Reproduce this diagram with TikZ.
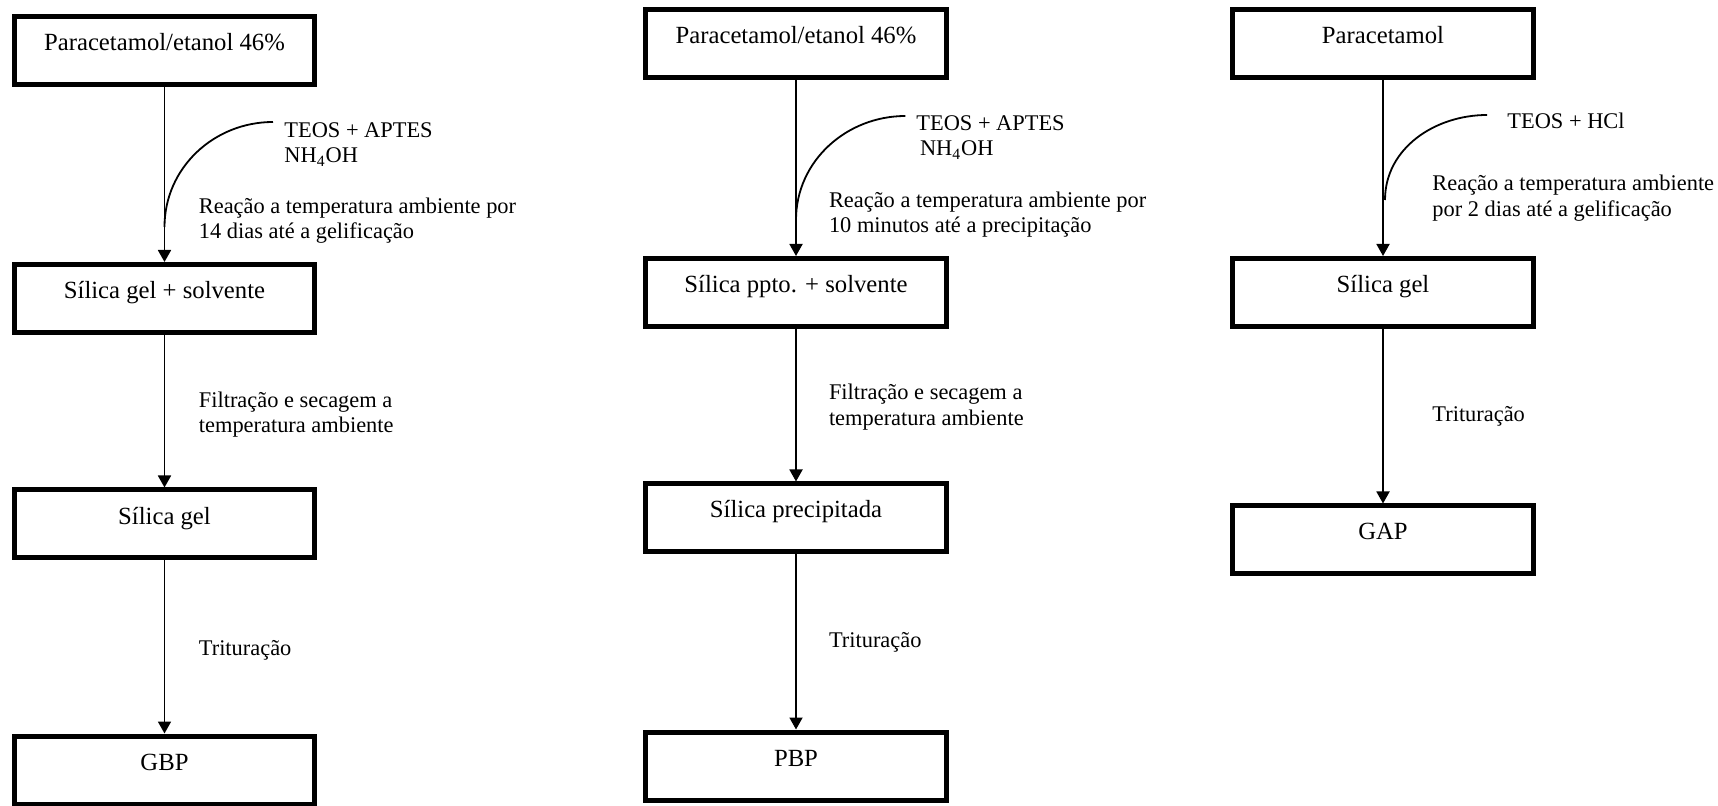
\documentclass[tikz,border=0pt]{standalone}
\usepackage{fontspec}
\setmainfont{Liberation Serif}
\usetikzlibrary{arrows.meta, positioning}

\begin{document}
\begin{tikzpicture}[x=0.5pt, y=-0.5pt,
    >={Triangle[length=6pt, width=6.5pt]},
    stage/.style={draw, line width=2.5pt, minimum width=#1,
      text height=17pt, text depth=17pt, inner ysep=0pt,
      font=\fontsize{12.35}{14}\selectfont},
    note/.style={anchor=base west, align=left, inner sep=0pt,
      font=\fontsize{11.2}{12.9}\selectfont},
    flow/.style={->, line width=0.9pt},
    feed/.style={line width=0.9pt}]
  \useasboundingbox (0,0) rectangle (1718,806);
  % ── Route 1: gel, base ──
  \begin{scope}[shift={(164.5,0)}]
    \node[stage=149.75pt] (g1) at (0,50.5) {Paracetamol/etanol 46\%};
    \node[stage=149.75pt] (g2) at (0,298.5) {Sílica gel + solvente};
    \node[stage=149.75pt] (g3) at (0,524) {Sílica gel};
    \node[stage=149.75pt] (g4) at (0,770) {GBP};
    \draw[flow] (g1.south) -- (g2.north);
    \draw[flow] (g2.south) -- (g3.north);
    \draw[flow] (g3.south) -- (g4.north);
    \coordinate (g1in) at (108.5,122);
    \coordinate (g1on) at (0,227);
    \draw[feed] (g1in) to[out=180, in=90] (g1on);
    % base of a two-line note = its last line
    \node[note] (g1reag) at (119.5,163) {TEOS + APTES\\NH\textsubscript{4}OH};
    \node[note] (g1cond) at (34,239)
      {Reação a temperatura ambiente por\\14 dias até a gelificação};
    \node[note] (g2cond) at (34,433)
      {Filtração e secagem a\\temperatura ambiente};
    \node[note] (g3cond) at (34,655) {Trituração};
  \end{scope}
  % ── Route 2: precipitate, base ──
  \begin{scope}[shift={(796,0)}]
    \node[stage=150.5pt] (p1) at (0,43.5) {Paracetamol/etanol 46\%};
    \node[stage=150.5pt] (p2) at (0,292.5) {Sílica ppto. + solvente};
    \node[stage=150.5pt] (p3) at (0,518) {Sílica precipitada};
    \node[stage=150.5pt] (p4) at (0,766) {PBP};
    \draw[flow] (p1.south) -- (p2.north);
    \draw[flow] (p2.south) -- (p3.north);
    \draw[flow] (p3.south) -- (p4.north);
    \coordinate (p1in) at (109.4,116);
    \coordinate (p1on) at (0,220);
    \draw[feed] (p1in) to[out=180, in=90] (p1on);
    \node[note] (p1reag) at (120,156)
      {TEOS + APTES\\\hspace{1.8pt}NH\textsubscript{4}OH};
    \node[note] (p1cond) at (32.6,233)
      {Reação a temperatura ambiente por\\10 minutos até a precipitação};
    \node[note] (p2cond) at (32.6,425.7)
      {Filtração e secagem a\\temperatura ambiente};
    \node[note] (p3cond) at (32.6,647.7) {Trituração};
  \end{scope}
  % ── Route 3: gel, acid ──
  \begin{scope}[shift={(1383,0)}]
    \node[stage=150.5pt] (a1) at (0,44) {Paracetamol};
    \node[stage=150.5pt] (a2) at (0,292.5) {Sílica gel};
    \node[stage=150.5pt] (a3) at (0,540) {GAP};
    \draw[flow] (a1.south) -- (a2.north);
    \draw[flow] (a2.south) -- (a3.north);
    \coordinate (a1in) at (104,115);
    \coordinate (a1on) at (2,200);
    \draw[feed] (a1in) to[out=180, in=90] (a1on);
    \node[note] (a1reag) at (124,129) {TEOS + HCl};
    \node[note] (a1cond) at (49,216.7)
      {Reação a temperatura ambiente\\por 2 dias até a gelificação};
    \node[note] (a2cond) at (49,421.7) {Trituração};
  \end{scope}
\end{tikzpicture}
\end{document}
